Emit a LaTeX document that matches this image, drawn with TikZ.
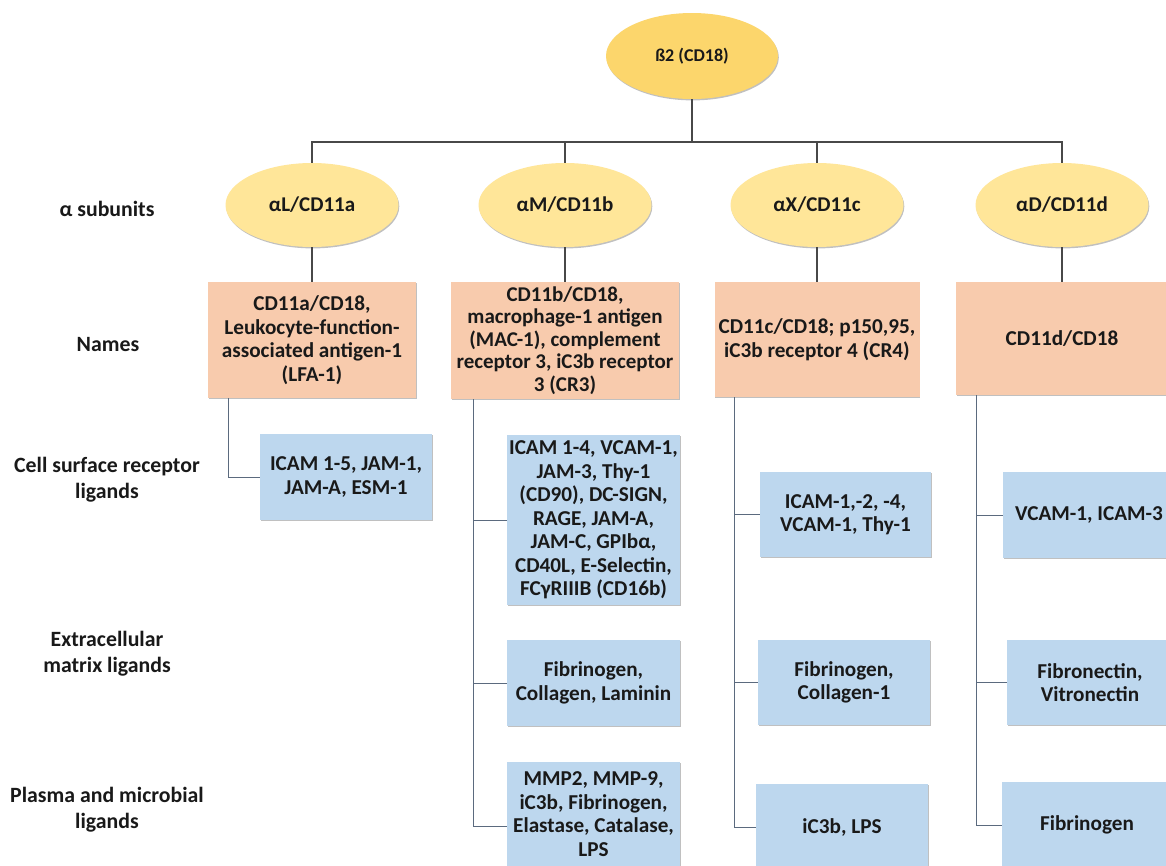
\documentclass[tikz,border=0pt]{standalone}
\usepackage{fontspec}
\setmainfont{Carlito}
\usetikzlibrary{shapes.geometric,shadows}
\definecolor{gold}{HTML}{FCD66C}
\definecolor{ylw}{HTML}{FFE699}
\definecolor{peach}{HTML}{F8CBAD}
\definecolor{lblue}{HTML}{BDD7EE}
\definecolor{conn}{HTML}{484848}
\definecolor{connb}{HTML}{5B6A7E}
\tikzset{
  txt/.style={font=\bfseries\fontsize{21.2}{23.5}\selectfont, align=center, inner sep=0pt, text=black!90},
  shad/.style={drop shadow={shadow xshift=0.8pt, shadow yshift=-1.4pt, opacity=0.35, fill=black!70}},
  topell/.style={txt, ellipse, fill=gold, shad, minimum width=172pt, minimum height=86pt, font=\bfseries\fontsize{18}{20}\selectfont},
  subell/.style={txt, ellipse, fill=ylw, shad, minimum width=173pt, minimum height=84pt, font=\bfseries\fontsize{21}{24}\selectfont},
  namebox/.style={txt, rectangle, fill=peach, shad, minimum height=116pt},
  ligbox/.style={txt, rectangle, fill=lblue, shad, minimum width=172pt, minimum height=86pt},
  rowlab/.style={txt, font=\bfseries\fontsize{21.8}{26}\selectfont},
  tl/.style={draw=conn, line width=1.1pt},
  ll/.style={draw=connb, line width=1pt},
}
\begin{document}
\begin{tikzpicture}[x=1pt, y=-1pt]
\useasboundingbox (0,0) rectangle (1166,865);
\clip (0,0) rectangle (1166,865);
\fill[white] (0,0) rectangle (1166,865);

% top
\node[topell] (top) at (692,56) {ß2 (CD18)};
% alpha subunits
\node[subell] (aL) at (312,205) {αL/CD11a};
\node[subell] (aM) at (565,205) {αM/CD11b};
\node[subell] (aX) at (817,205) {αX/CD11c};
\node[subell] (aD) at (1062,205) {αD/CD11d};

% row labels
\node[rowlab] (r1) at (107,209) {α subunits};
\node[rowlab] (r2) at (108,345) {Names};
\node[rowlab] (r3) at (107,480) {Cell surface receptor\\ligands};
\node[rowlab] (r4) at (107,654) {Extracellular\\matrix ligands};
\node[rowlab] (r5) at (107,810) {Plasma and microbial\\ligands};

% names
\node[namebox, minimum width=208pt] (nA) at (312,340) {CD11a/CD18,\\Leukocyte-function-\\associated antigen-1\\(LFA-1)};
\node[namebox, minimum width=228pt, minimum height=117pt, font=\bfseries\fontsize{21}{22.5}\selectfont] (nB) at (565,340.5) {CD11b/CD18,\\macrophage-1 antigen\\(MAC-1), complement\\receptor 3, iC3b receptor\\3 (CR3)};
\node[namebox, minimum width=205pt, minimum height=115pt] (nC) at (817,339.5) {CD11c/CD18; p150,95,\\iC3b receptor 4 (CR4)};
\node[namebox, minimum width=212pt, minimum height=113pt] (nD) at (1062,338.5) {CD11d/CD18};

% ligands
\node[ligbox] (lA1) at (346,477) {ICAM 1-5, JAM-1,\\JAM-A, ESM-1};

\node[ligbox, minimum width=173pt, minimum height=170pt] (lB1) at (593.5,520) {ICAM 1-4, VCAM-1,\\JAM-3, Thy-1\\(CD90), DC-SIGN,\\RAGE, JAM-A,\\JAM-C, GPIbα,\\CD40L, E-Selectin,\\FCγRIIIB (CD16b)};
\node[ligbox, minimum width=173pt] (lB2) at (593.5,683) {Fibrinogen,\\Collagen, Laminin};
\node[ligbox, minimum width=173pt, minimum height=128pt] (lB3) at (593.5,826) {MMP2, MMP-9,\\iC3b, Fibrinogen,\\Elastase, Catalase,\\LPS\\\mbox{}};

\node[ligbox, minimum width=171pt, minimum height=85pt] (lC1) at (845.5,514.5) {ICAM-1,-2, -4,\\VCAM-1, Thy-1};
\node[ligbox, minimum height=85pt] (lC2) at (844,682.5) {Fibrinogen,\\Collagen-1};
\node[ligbox] (lC3) at (842,827) {iC3b, LPS};

\node[ligbox, minimum height=86pt] (lD1) at (1089,515) {VCAM-1, ICAM-3};
\node[ligbox, minimum width=166pt, minimum height=85pt] (lD2) at (1090,682.5) {Fibronectin,\\Vitronectin};
\node[ligbox, minimum width=170pt, minimum height=86pt] (lD3) at (1087,825) {Fibrinogen};

% top connectors
\coordinate (bar) at (0,142);
\draw[tl] (top.south) -- (top.south |- bar);
\draw[tl] (aL.north) -- (aL.north |- bar) -| (aD.north);
\draw[tl] (aM.north) -- (aM.north |- bar);
\draw[tl] (aX.north) -- (aX.north |- bar);
\draw[tl] (aL) -- (nA);
\draw[tl] (aM) -- (nB);
\draw[tl] (aX) -- (nC);
\draw[tl] (aD) -- (nD);

% ligand connectors
\draw[ll] ([xshift=21pt]nA.south west) |- (lA1.west);

\draw[ll] ([xshift=23pt]nB.south west) coordinate (tB) |- (lB3.west);
\draw[ll] (tB |- lB1.west) -- (lB1.west);
\draw[ll] (tB |- lB2.west) -- (lB2.west);

\draw[ll] ([xshift=20pt]nC.south west) coordinate (tC) |- (lC3.west);
\draw[ll] (tC |- lC1.west) -- (lC1.west);
\draw[ll] (tC |- lC2.west) -- (lC2.west);

\draw[ll] ([xshift=21pt]nD.south west) coordinate (tD) |- (lD3.west);
\draw[ll] (tD |- lD1.west) -- (lD1.west);
\draw[ll] (tD |- lD2.west) -- (lD2.west);
\end{tikzpicture}
\end{document}
